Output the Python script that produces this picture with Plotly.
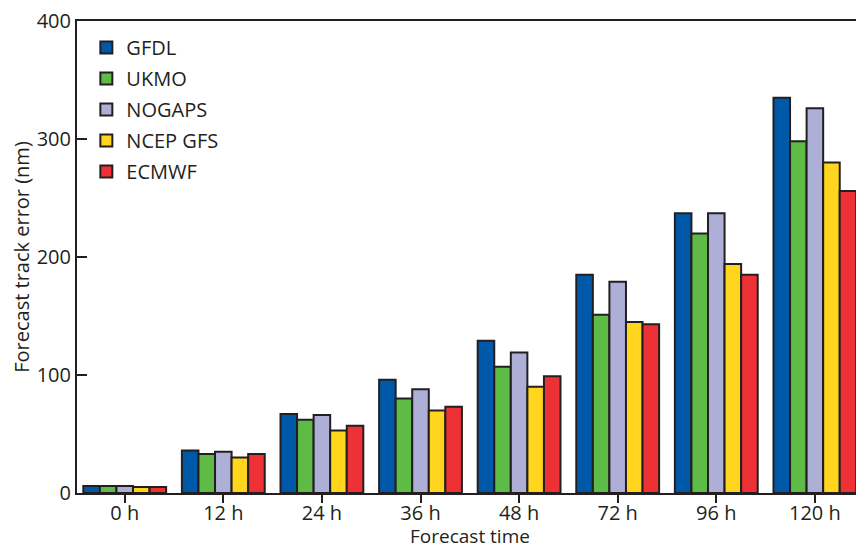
import plotly.graph_objects as go

categories = ["0 h", "12 h", "24 h", "36 h", "48 h", "72 h", "96 h", "120 h"]
models = ["GFDL", "UKMO", "NOGAPS", "NCEP GFS", "ECMWF"]
gfdl = [6, 36, 67, 96, 129, 185, 237, 335]
ukmo = [6, 33, 62, 80, 107, 151, 220, 298]
nogaps = [6, 35, 66, 88, 119, 179, 237, 326]
ncep = [5, 30, 53, 70, 90, 145, 194, 280]
ecmwf = [5, 33, 57, 73, 99, 143, 185, 256]
series = [gfdl, ukmo, nogaps, ncep, ecmwf]
colors = ["#0059A8", "#5EBB46", "#ADAFD7", "#FFD51D", "#EE3135"]

FONT = "Open Sans"
INK = "#231F20"

fig = go.Figure()
for name, vals, col in zip(models, series, colors):
    fig.add_trace(go.Bar(
        x=categories, y=vals, name=name, legendgroup=name,
        marker=dict(color=col, line=dict(color=INK, width=2)),
    ))

fig.update_layout(
    width=856, height=546,
    margin=dict(l=77, r=0, t=21, b=53),
    paper_bgcolor="white", plot_bgcolor="white",
    barmode="group", bargap=0.16, bargroupgap=0,
    font=dict(family=FONT, size=20, color=INK),
    legend=dict(x=0.012, y=0.985, xanchor="left", yanchor="top",
                font=dict(size=20, family=FONT, color=INK),
                tracegroupgap=2, bgcolor="rgba(0,0,0,0)"),
    xaxis=dict(range=[-0.484, 7.417], showline=True, linecolor=INK, linewidth=2,
               mirror=True, ticks="outside", ticklen=8, tickwidth=2, tickcolor=INK,
               showgrid=False, zeroline=False, automargin=False,
               tickfont=dict(size=20), ticklabelstandoff=-7),
    yaxis=dict(range=[0, 400], showline=True, linecolor=INK, linewidth=2,
               ticks="inside", ticklen=10, tickwidth=2, tickcolor=INK,
               tickvals=[0, 100, 200, 300, 400], showgrid=False, zeroline=False,
               automargin=False, tickfont=dict(size=20),
               title=dict(text="Forecast track error (nm)", standoff=2, font=dict(size=20))),
    annotations=[dict(text="Forecast time", xref="paper", yref="paper", x=0.505, y=0,
                      xanchor="center", yanchor="top", yshift=-28, showarrow=False,
                      font=dict(size=19, family=FONT, color=INK))],
)

fig.write_html("out.html", post_script="document.body.style.margin='0';",
               config={"displayModeBar": False})
